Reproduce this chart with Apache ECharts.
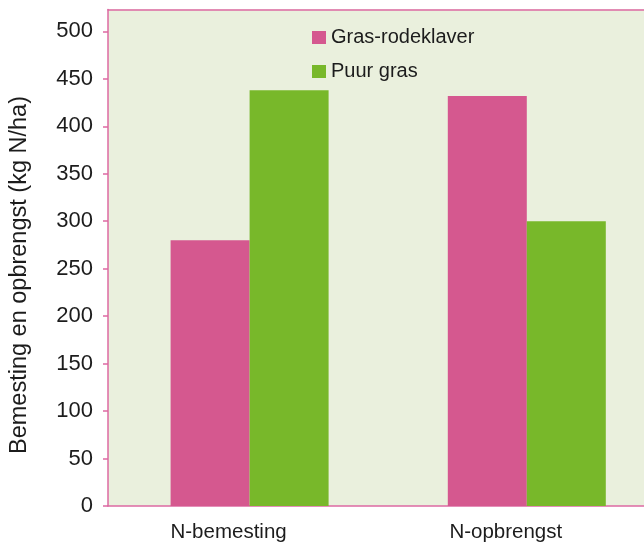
<!DOCTYPE html>
<html>
<head>
<meta charset="utf-8">
<script src="https://cdn.jsdelivr.net/npm/echarts@6/dist/echarts.min.js"></script>
<style>
  html, body { margin: 0; padding: 0; background: #ffffff; }
  #chart { width: 644px; height: 546px; }
</style>
</head>
<body>
<div id="chart"></div>
<script>
// Stikstofbemesting en -opbrengst per teeltsysteem (kg N/ha)
const categories = ['N-bemesting', 'N-opbrengst'];
const grasRodeklaver = [280, 432];
const puurGras = [438, 300];
const yTicks = [0, 50, 100, 150, 200, 250, 300, 350, 400, 450, 500];
const yMax = 523;

const pink = '#d5588f';
const green = '#78b82a';
const axisPink = '#dd6aa2';
const textColor = '#1c1c1c';
const fontFamily = 'Liberation Sans, Arial, sans-serif';

const chart = echarts.init(document.getElementById('chart'), null, { renderer: 'canvas' });

chart.setOption({
  animation: false,
  textStyle: { fontFamily: fontFamily, color: textColor },
  grid: [
    // plot frame: background, left/top/bottom borders; runs past the right edge
    { left: 108, top: 9.5, right: -40, bottom: 40, show: true, backgroundColor: '#eaf0dd', borderWidth: 0, outerBoundsMode: 'none' },
    // bar area
    { left: 111, top: 9.5, right: -21.4, bottom: 40, outerBoundsMode: 'none' }
  ],
  legend: {
    orient: 'vertical',
    left: 312,
    top: 27.5,
    padding: 0,
    itemWidth: 14,
    itemHeight: 13,
    itemGap: 14,
    icon: 'rect',
    textStyle: { fontSize: 20, lineHeight: 20, color: textColor, fontFamily: fontFamily },
    data: ['Gras-rodeklaver', 'Puur gras']
  },
  xAxis: [
    {
      gridIndex: 0, type: 'category', data: categories,
      axisLine: { show: true, lineStyle: { color: axisPink, width: 1.5 } },
      axisTick: { show: false }, axisLabel: { show: false }, splitLine: { show: false }
    },
    {
      gridIndex: 0, type: 'category', position: 'top', data: categories,
      axisLine: { show: true, lineStyle: { color: axisPink, width: 1.5 } },
      axisTick: { show: false }, axisLabel: { show: false }, splitLine: { show: false }
    },
    {
      gridIndex: 1, type: 'category', data: categories,
      axisLine: { show: false }, axisTick: { show: false }, splitLine: { show: false },
      axisLabel: { fontSize: 20.5, color: textColor, margin: 16, fontFamily: fontFamily, padding: [0, 42, 0, 0] }
    }
  ],
  yAxis: [
    {
      gridIndex: 0, type: 'value', min: 0, max: yMax, interval: 50,
      axisLine: { show: true, lineStyle: { color: axisPink, width: 1.5 } },
      axisTick: { show: true, inside: false, length: 5, customValues: yTicks, lineStyle: { color: axisPink, width: 1.5 } },
      axisLabel: { customValues: yTicks, fontSize: 22, color: textColor, margin: 15, fontFamily: fontFamily },
      splitLine: { show: false }
    },
    { gridIndex: 1, type: 'value', min: 0, max: yMax, show: false, splitLine: { show: false } }
  ],
  graphic: [
    {
      type: 'text',
      x: 20, y: 275,
      rotation: Math.PI / 2,
      style: {
        text: 'Bemesting en opbrengst (kg N/ha)',
        fontSize: 23.5,
        fontFamily: fontFamily,
        fill: textColor,
        align: 'center',
        verticalAlign: 'middle'
      }
    }
  ],
  series: [
    {
      name: 'Gras-rodeklaver', type: 'bar', xAxisIndex: 2, yAxisIndex: 1,
      data: grasRodeklaver, barWidth: 79, barGap: '0%',
      itemStyle: { color: pink }
    },
    {
      name: 'Puur gras', type: 'bar', xAxisIndex: 2, yAxisIndex: 1,
      data: puurGras, barWidth: 79, barGap: '0%',
      itemStyle: { color: green }
    }
  ]
});
</script>
</body>
</html>
